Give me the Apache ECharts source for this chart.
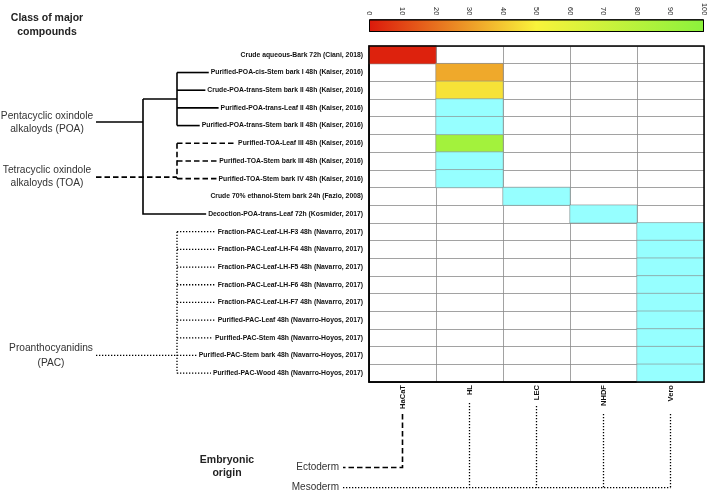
<!DOCTYPE html>
<html><head><meta charset="utf-8">
<script src="https://cdn.jsdelivr.net/npm/echarts@6/dist/echarts.min.js"></script>
<style>html,body{margin:0;padding:0;background:#fff}#c{width:708px;height:493px}</style>
</head><body><div id="c"></div>
<script>
// ---- data ----
const extracts = [
  'Crude aqueous-Bark 72h (Ciani, 2018)',
  'Purified-POA-cis-Stem bark I 48h (Kaiser, 2016)',
  'Crude-POA-trans-Stem bark II 48h (Kaiser, 2016)',
  'Purified-POA-trans-Leaf II 48h (Kaiser, 2016)',
  'Purified-POA-trans-Stem bark II 48h (Kaiser, 2016)',
  'Purified-TOA-Leaf III 48h (Kaiser, 2016)',
  'Purified-TOA-Stem bark III 48h (Kaiser, 2016)',
  'Purified-TOA-Stem bark IV 48h (Kaiser, 2016)',
  'Crude 70% ethanol-Stem bark 24h (Fazio, 2008)',
  'Decoction-POA-trans-Leaf 72h (Kosmider, 2017)',
  'Fraction-PAC-Leaf-LH-F3 48h (Navarro, 2017)',
  'Fraction-PAC-Leaf-LH-F4 48h (Navarro, 2017)',
  'Fraction-PAC-Leaf-LH-F5 48h (Navarro, 2017)',
  'Fraction-PAC-Leaf-LH-F6 48h (Navarro, 2017)',
  'Fraction-PAC-Leaf-LH-F7 48h (Navarro, 2017)',
  'Purified-PAC-Leaf 48h (Navarro-Hoyos, 2017)',
  'Purified-PAC-Stem 48h (Navarro-Hoyos, 2017)',
  'Purified-PAC-Stem bark 48h (Navarro-Hoyos, 2017)',
  'Purified-PAC-Wood 48h (Navarro-Hoyos, 2017)'
];
const cellLines = ['HaCaT', 'HL', 'LEC', 'NHDF', 'Vero'];
// cell line each extract was tested on
const testedOn = ['HaCaT','HL','HL','HL','HL','HL','HL','HL','LEC','NHDF',
  'Vero','Vero','Vero','Vero','Vero','Vero','Vero','Vero','Vero'];
// value on colour scale (null = cyan cell, not on scale)
const activity = [2, 33, 46, null, null, 89, null, null, null, null,
  null, null, null, null, null, null, null, null, null];
const scaleTicks = [0, 10, 20, 30, 40, 50, 60, 70, 80, 90, 100];
const groupPOA = [1, 2, 3, 4];
const groupTOA = [5, 6, 7];
const groupPAC = [10, 11, 12, 13, 14, 15, 16, 17, 18];
const soloPOA = 9;
const ectoderm = ['HaCaT'];
const mesoderm = ['HL', 'LEC', 'NHDF', 'Vero'];

const scaleColors = ['#dc190b', '#f9f33b', '#8bf23c'];
const FONT = '"Liberation Sans", Arial, sans-serif';

const scaled = [], cyan = [];
extracts.forEach((e, i) => {
  const x = cellLines.indexOf(testedOn[i]);
  if (activity[i] == null) cyan.push([x, i, 0]);
  else scaled.push([x, i, activity[i]]);
});

const chart = echarts.init(document.getElementById('c'), null, {renderer: 'canvas'});
const G = {left: 369, top: 46, width: 335, height: 336};
const LBL = {fontSize: 6.8, fontWeight: 'bold', color: '#111', fontFamily: FONT};

chart.setOption({
  animation: false,
  grid: [
    {left: G.left, top: G.top, width: G.width, height: G.height},
    {left: G.left, top: 17, width: G.width, height: 15}
  ],
  xAxis: [
    {type: 'category', data: cellLines, gridIndex: 0, position: 'bottom',
     axisLine: {lineStyle: {color: '#000', width: 1.5}},
     axisTick: {alignWithLabel: true, length: 5, lineStyle: {color: '#000', width: 1.5}},
     axisLabel: Object.assign({rotate: 90, margin: 3, interval: 0}, LBL, {fontSize: 7.6}),
     splitLine: {show: true, lineStyle: {color: '#8a8a8a', width: 0.8}}},
    {type: 'value', gridIndex: 1, min: 0, max: 100, interval: 10, position: 'top',
     axisLine: {show: false}, axisTick: {show: false},
     axisLabel: {rotate: 90, fontSize: 7.4, margin: 4, color: '#222', fontFamily: FONT,
       formatter: v => scaleTicks.includes(v) ? String(v) : ''},
     splitLine: {show: false}},
    {type: 'value', gridIndex: 1, min: 0, max: 100, interval: 10, position: 'bottom', z: 10,
     axisLine: {show: false},
     axisTick: {inside: true, length: 3, lineStyle: {color: '#000', width: 1}},
     axisLabel: {show: false}, splitLine: {show: false}}
  ],
  yAxis: [
    {type: 'category', data: extracts, inverse: true, gridIndex: 0,
     axisLine: {lineStyle: {color: '#000', width: 1.5}},
     axisTick: {alignWithLabel: true, length: 5, lineStyle: {color: '#000', width: 1.5}},
     axisLabel: Object.assign({margin: 6, interval: 0}, LBL),
     splitLine: {show: true, lineStyle: {color: '#8a8a8a', width: 0.8}}},
    {type: 'category', data: ['scale'], gridIndex: 1, show: false}
  ],
  visualMap: {show: false, type: 'continuous', min: 0, max: 100, seriesIndex: 0, dimension: 2,
    inRange: {color: scaleColors}},
  series: [
    {type: 'heatmap', xAxisIndex: 0, yAxisIndex: 0, data: scaled,
     itemStyle: {borderColor: '#8a8a8a', borderWidth: 0.6}},
    {type: 'heatmap', xAxisIndex: 0, yAxisIndex: 0, data: cyan,
     itemStyle: {color: '#96ffff', borderColor: '#8a8a8a', borderWidth: 0.6}},
    {type: 'bar', xAxisIndex: 1, yAxisIndex: 1, data: [scaleTicks[scaleTicks.length - 1]],
     barWidth: '100%', silent: true,
     itemStyle: {borderColor: '#000', borderWidth: 1,
       color: new echarts.graphic.LinearGradient(0, 0, 1, 0, [
         {offset: 0, color: scaleColors[0]}, {offset: 0.5, color: scaleColors[1]}, {offset: 1, color: scaleColors[2]}])}}
  ]
});

// ---- annotations (tree) ----
const ctx = document.createElement('canvas').getContext('2d');
ctx.font = 'bold ' + LBL.fontSize + 'px ' + FONT;
const rowY = i => chart.convertToPixel({yAxisIndex: 0}, extracts[i]);
const colX = c => chart.convertToPixel({xAxisIndex: 0}, c);
const labelLeft = i => G.left - 6 - ctx.measureText(extracts[i]).width - 2;

const SOLID = {stroke: '#000', lineWidth: 1.6, fill: null};
const DASH = {stroke: '#000', lineWidth: 1.6, lineDash: [5.5, 3], fill: null};
const DOT = {stroke: '#000', lineWidth: 1.3, lineDash: [1.3, 1.7], fill: null};
const g = [];
const line = (pts, st) => g.push({type: 'polyline', shape: {points: pts}, style: Object.assign({}, st), z: 50, silent: true});
const text = (t, x, y, opt) => g.push({type: 'text', z: 50, silent: true, style: Object.assign({
  text: t, x: x, y: y, textAlign: 'center', textVerticalAlign: 'middle',
  font: '10.2px ' + FONT, fill: '#333', lineHeight: 13}, opt || {})});

const XA = 177, XB = 143, XL = 96;
// POA cluster
groupPOA.forEach(i => line([[XA, rowY(i)], [labelLeft(i), rowY(i)]], SOLID));
line([[XA, rowY(groupPOA[0])], [XA, rowY(groupPOA[groupPOA.length - 1])]], SOLID);
const poaMid = (rowY(groupPOA[0]) + rowY(groupPOA[groupPOA.length - 1])) / 2;
line([[XB, poaMid], [XA, poaMid]], SOLID);
line([[XB, poaMid], [XB, rowY(soloPOA)], [labelLeft(soloPOA), rowY(soloPOA)]], SOLID);
line([[XL, 122], [XB, 122]], SOLID);
text('Pentacyclic oxindole\nalkaloyds (POA)', 47, 122.5);
// TOA cluster
groupTOA.forEach(i => line([[XA, rowY(i)], [labelLeft(i), rowY(i)]], DASH));
line([[XA, rowY(groupTOA[0])], [XA, rowY(groupTOA[groupTOA.length - 1])]], DASH);
const toaY = rowY(groupTOA[groupTOA.length - 1]) - 1.5;
line([[XL, toaY], [XA, toaY]], DASH);
text('Tetracyclic oxindole\nalkaloyds (TOA)', 47, toaY);
// PAC cluster
groupPAC.forEach(i => line([[XA, rowY(i)], [labelLeft(i), rowY(i)]], DOT));
line([[XA, rowY(groupPAC[0])], [XA, rowY(groupPAC[groupPAC.length - 1])]], DOT);
const pacY = rowY(17);
line([[XL, pacY], [XA, pacY]], DOT);
text('Proanthocyanidins\n(PAC)', 51, pacY, {lineHeight: 15});

// headings
text('Class of major\ncompounds', 47, 25, {font: 'bold 10.5px ' + FONT, fill: '#222', lineHeight: 13.5});
text('Embryonic\norigin', 227, 467, {font: 'bold 10.5px ' + FONT, fill: '#222', lineHeight: 13});

// embryonic origin lines
const ectoY = 467.5, mesoY = 487.7, XE = 343;
const lblEnd = {HaCaT: 414, HL: 403, LEC: 406, NHDF: 414, Vero: 414};
ectoderm.forEach(c => line([[colX(c), lblEnd[c]], [colX(c), ectoY], [XE, ectoY]], DASH));
mesoderm.forEach(c => line([[colX(c), lblEnd[c]], [colX(c), mesoY]], DOT));
line([[XE, mesoY], [colX(mesoderm[mesoderm.length - 1]), mesoY]], DOT);
text('Ectoderm', 339, ectoY, {textAlign: 'right', font: '10px ' + FONT});
text('Mesoderm', 339, mesoY, {textAlign: 'right', font: '10px ' + FONT});

// grid frame
g.push({type: 'rect', z: 60, silent: true, shape: {x: G.left, y: G.top, width: G.width, height: G.height},
  style: {fill: null, stroke: '#000', lineWidth: 1.5}});

chart.setOption({graphic: g});
</script></body></html>
